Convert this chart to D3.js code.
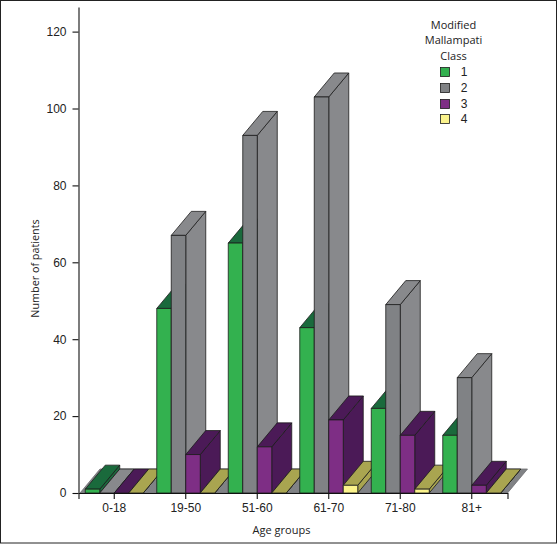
<!DOCTYPE html>
<html><head><meta charset="utf-8">
<script src="https://cdn.jsdelivr.net/npm/d3@7"></script>
<style>html,body{margin:0;padding:0;background:#fff}svg{display:block}</style>
</head><body><svg id="c" width="557" height="544"></svg>
<script>
const ageGroups = ["0-18","19-50","51-60","61-70","71-80","81+"];
const classNames = ["1","2","3","4"];
const class1 = [1,48,65,43,22,15];
const class2 = [0,67,93,103,49,30];
const class3 = [0,10,12,19,15,2];
const class4 = [0,0,0,2,1,0];
const yTicks = [0,20,40,60,80,100,120];
const frontColors = ["#33b14f","#808285","#7e2e85","#fbf38c"];
const sideColors = ["#1a6a3c","#88898c","#4b1a57","#a9a550"];
const seriesValues = [class1,class2,class3,class4];

const svg = d3.select("#c");
const fontA = "'Liberation Sans',Arial,sans-serif", fontB = "'Open Sans',sans-serif";
svg.append("rect").attr("x",0.5).attr("y",0.5).attr("width",556).attr("height",542.5).attr("fill","#fff").attr("stroke","#222");

const x0 = d3.scaleBand().domain(ageGroups).range([78.5,507.5]);
const x1 = d3.scaleBand().domain(classNames).range([6.75,64.75]);
const y = d3.scaleLinear().domain([0,126.4]).range([493,7]);
const dx = 20, dy = -24;
const line = d3.line();
const poly = (g,pts,fill,stroke)=>g.append("path").attr("d",line(pts)+"Z").attr("fill",fill)
  .attr("stroke",stroke||"#1c1c1c").attr("stroke-width",0.8).attr("stroke-linejoin","round");

const marks = svg.append("g");
const fl = 80, fr = x0.range()[1], b = y(0);
poly(marks,[[fl,b],[fr,b],[fr+dx,b+dy],[fl+dx,b+dy]],"#808285","#6e6f72");

ageGroups.forEach((g,i)=>{
  classNames.forEach((c,k)=>{
    const v = seriesValues[k][i];
    const l = x0(g)+x1(c), r = l+x1.bandwidth(), t = y(v);
    poly(marks,[[r,b],[r+dx,b+dy],[r+dx,t+dy],[r,t]],sideColors[k]);
    poly(marks,[[l,t],[r,t],[r+dx,t+dy],[l+dx,t+dy]],sideColors[k]);
    if(v>0) poly(marks,[[l,b],[r,b],[r,t],[l,t]],frontColors[k]);
  });
});

const ax = svg.append("g").attr("transform","translate(0,493)")
  .call(d3.axisBottom(x0).tickSize(6).tickPadding(4));
ax.selectAll("text").attr("font-family",fontA).attr("font-size",12).attr("fill","#222");
const ay = svg.append("g").attr("transform","translate(78.5,0)")
  .call(d3.axisLeft(y).tickValues(yTicks).tickSize(6).tickSizeOuter(0).tickPadding(6));
ay.selectAll("text").attr("font-family",fontA).attr("font-size",12).attr("fill","#222");
svg.selectAll(".domain,.tick line").attr("stroke","#111").attr("stroke-width",1.1);

svg.append("text").attr("x",281.5).attr("y",534).attr("text-anchor","middle")
  .attr("font-family",fontB).attr("font-size",11).attr("fill","#222").text("Age groups");
svg.append("text").attr("transform","translate(38.5,268.5) rotate(-90)").attr("text-anchor","middle")
  .attr("font-family",fontB).attr("font-size",10.8).attr("fill","#222").text("Number of patients");

const legend = svg.append("g").attr("font-family",fontB).attr("font-size",11).attr("fill","#222");
["Modified","Mallampati","Class"].forEach((s,i)=>legend.append("text").attr("x",453.5).attr("y",[29,44,60][i]).attr("text-anchor","middle").text(s));
const ly = [72,88,104,119];
classNames.forEach((c,k)=>{
  legend.append("rect").attr("x",440.5).attr("y",ly[k]-4.5).attr("width",9).attr("height",9)
    .attr("fill",frontColors[k]).attr("stroke","#1c1c1c").attr("stroke-width",0.8);
  legend.append("text").attr("x",464).attr("y",ly[k]+4).attr("text-anchor","middle").attr("font-family",fontA).attr("font-size",12).text(c);
});
</script></body></html>
